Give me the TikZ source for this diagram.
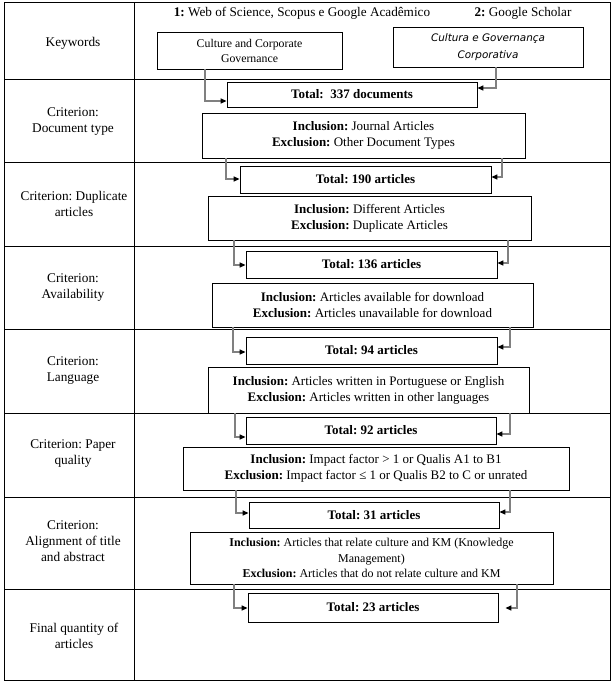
\documentclass[tikz,border=0pt]{standalone}
\usepackage{fontspec}
\setmainfont{Liberation Serif}
\newfontfamily\dejasans{DejaVu Sans}
\usetikzlibrary{arrows.meta}
\newcommand\fsz[2]{\fontsize{#1}{#2}\selectfont}
\frenchspacing
\begin{document}
\begin{tikzpicture}[x=1pt,y=-1pt,
  grid/.style={draw=black,line width=0.8pt},
  box/.style={draw=black,line width=0.8pt,inner sep=0pt,align=center,font=\fsz{13}{16}},
  totbox/.style={box,font=\fsz{13}{14}\bfseries},
  lab/.style={align=center,inner sep=0pt,font=\fsz{13.3}{16}},
  head/.style={inner sep=0pt,font=\fsz{13.2}{14}},
  conn/.style={draw=black!50,line width=1.4pt,-{Triangle[length=6pt,width=5pt,color=black]}},
  tickmark/.style={draw=black,line width=1.4pt}]
\useasboundingbox (0,0) rectangle (613,683);
\fill[white] (0,0) rectangle (613,683);
% table
\draw[grid] (4,2) rectangle (610,680);
\draw[grid] (134,2) -- (134,680);
\foreach \yy in {79,162,246,329,413,497,589} {\draw[grid] (4,\yy) -- (610,\yy);}
% left labels
\node[lab] (l0) at (73,43) {Keywords};
\node[lab] (l1) at (73,122) {Criterion:\\Document type};
\node[lab] (l2) at (74,204) {Criterion: Duplicate\\articles};
\node[lab] (l3) at (73,288) {Criterion:\\Availability};
\node[lab] (l4) at (73,371) {Criterion:\\Language};
\node[lab] (l5) at (73,454) {Criterion: Paper\\quality};
\node[lab] (l6) at (73,541) {Criterion:\\Alignment of title\\and abstract};
\node[lab] (l7) at (74,636) {Final quantity of\\articles};
% headers
\node[head] (h1) at (302,13) {\textbf{1:} Web of Science, Scopus e Google Acadêmico};
\node[head] (h2) at (523,13) {\textbf{2:} Google Scholar};
% boxes
\node[box,minimum width=185pt,minimum height=37pt,font=\fsz{11.8}{15}] (kw1) at (249.5,50.5) {Culture and Corporate\\Governance};
\node[box,minimum width=190pt,minimum height=40pt,font=\dejasans\itshape\fsz{10.4}{16.5}] (kw2) at (488,47) {\raisebox{-1.5pt}{Cultura e Governança}\\\raisebox{-1.5pt}{Corporativa}};
\node[totbox,minimum width=250pt,minimum height=25pt] (t0) at (352,94.5) {Total:\ \ 337 documents};
\node[box,minimum width=323pt,minimum height=45pt] (c1) at (363.5,135.5) {\textbf{Inclusion:} Journal Articles\\\textbf{Exclusion:} Other Document Types};
\node[totbox,minimum width=251pt,minimum height=27pt] (t1) at (365.5,179.5) {Total: 190 articles};
\node[box,minimum width=323pt,minimum height=44pt] (c2) at (369.5,218) {\textbf{Inclusion:} Different Articles\\\textbf{Exclusion:} Duplicate Articles};
\node[totbox,minimum width=251pt,minimum height=27pt] (t2) at (371.5,264.5) {Total: 136 articles};
\node[box,minimum width=321pt,minimum height=44pt] (c3) at (372.5,305) {\textbf{Inclusion:} Articles available for download\\\textbf{Exclusion:} Articles unavailable for download};
\node[totbox,minimum width=251pt,minimum height=27pt] (t3) at (371.5,350.5) {Total: 94 articles};
\node[box,minimum width=321pt,minimum height=46pt] (c4) at (368.5,390) {\textbf{Inclusion:} Articles written in Portuguese or English\\\textbf{Exclusion:} Articles written in other languages};
\node[totbox,minimum width=250pt,minimum height=27pt] (t4) at (371,430.5) {Total: 92 articles};
\node[box,minimum width=386pt,minimum height=43pt] (c5) at (376,468.5) {\textbf{Inclusion:} Impact factor > 1 or Qualis A1 to B1\\\textbf{Exclusion:} Impact factor ≤ 1 or Qualis B2 to C or unrated};
\node[totbox,minimum width=250pt,minimum height=26pt] (t5) at (374,515) {Total: 31 articles};
\node[box,minimum width=363pt,minimum height=52pt,font=\fsz{12}{15.5}] (c6) at (371.5,558) {\textbf{Inclusion:} Articles that relate culture and KM (Knowledge\\Management)\\\textbf{Exclusion:} Articles that do not relate culture and KM};
\node[totbox,minimum width=250pt,minimum height=29pt] (t6) at (373,607.5) {Total: 23 articles};
% ticks
\draw[tickmark] (kw2.south -| 497,0) -- (kw2.south -| 515,0);
\draw[tickmark] (c3.south -| 222,0) -- (c3.south -| 233,0);
\draw[tickmark] (c3.south -| 510,0) -- (c3.south -| 520,0);
\draw[tickmark] (c5.south -| 225,0) -- (c5.south -| 236,0);
\draw[tickmark] (c5.south -| 510,0) -- (c5.south -| 522,0);
\draw[tickmark] (c6.south -| 223,0) -- (c6.south -| 234,0);
\draw[tickmark] (c6.south -| 517,0) -- (c6.south -| 527,0);
% connectors
\draw[conn] (kw1.south -| 205,0) |- (t0.west |- 0,101);
\draw[conn] (kw2.south -| 496,0) |- (t0.east |- 0,88);
\draw[conn] (c1.south -| 226,0) |- (t1.west |- 0,179);
\draw[conn] (c1.south -| 502,0) |- (t1.east |- 0,177);
\draw[conn] (c2.south -| 234,0) |- (t2.west |- 0,265);
\draw[conn] (c2.south -| 508,0) |- (t2.east |- 0,263);
\draw[conn] (c3.south -| 233,0) |- (t3.west |- 0,352);
\draw[conn] (c3.south -| 510,0) |- (t3.east |- 0,347);
\draw[conn] (c4.south -| 235,0) |- (t4.west |- 0,437);
\draw[conn] (c4.south -| 510,0) |- (t4.east |- 0,434);
\draw[conn] (c5.south -| 236,0) |- (t5.west |- 0,513);
\draw[conn] (c5.south -| 510,0) |- (t5.east |- 0,512);
\draw[conn] (c6.south -| 234,0) |- (t6.west |- 0,608);
\draw[conn,shorten >=7pt] (c6.south -| 517,0) |- (t6.east |- 0,608);
\end{tikzpicture}
\end{document}
